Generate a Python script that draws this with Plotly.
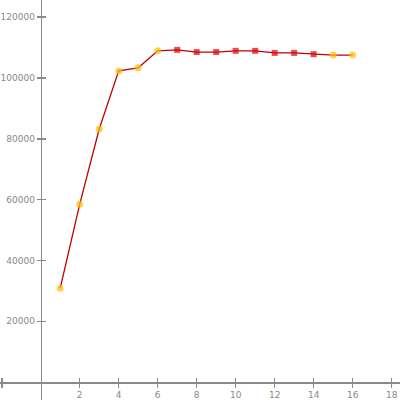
import plotly.graph_objects as go

x_vals = [1, 2, 3, 4, 5, 6, 7, 8, 9, 10, 11, 12, 13, 14, 15, 16]
y_vals = [30900, 58500, 83200, 102300, 103300, 108900, 109200, 108500, 108500,
          108900, 108900, 108200, 108200, 107800, 107500, 107500]
point_group = ["o", "o", "o", "o", "o", "o", "r", "r", "r", "r", "r", "r", "r", "r", "o", "o"]
x_ticks = [-2, 2, 4, 6, 8, 10, 12, 14, 16, 18]
x_tick_text = ["", "2", "4", "6", "8", "10", "12", "14", "16", "18"]
y_ticks = [20000, 40000, 60000, 80000, 100000, 120000]
y_tick_text = ["20000", "40000", "60000", "80000", "100000", "120000"]

colors = ["#FFBE0A" if g == "o" else "#E00000" for g in point_group]
symbols = ["circle" if g == "o" else "square" for g in point_group]
sizes = [7 if g == "o" else 6 for g in point_group]

xr = [-2.09, 18.43]
yr = [-5850, 125600]
xpos = (0 - xr[0]) / (xr[1] - xr[0])
ypos = (0 - yr[0]) / (yr[1] - yr[0])

fig = go.Figure()
fig.add_trace(go.Scatter(
    x=x_vals, y=y_vals, mode="lines+markers",
    line=dict(color="#C00000", width=1.3),
    marker=dict(color=colors, symbol=symbols, size=sizes, line=dict(width=0)),
    showlegend=False, hoverinfo="skip"))

axis_font = dict(family="DejaVu Sans", size=9, color="#888888")
common = dict(showgrid=False, zeroline=False, showline=True, linecolor="#8a8a8a",
              linewidth=1.5, ticklen=4, tickwidth=1.5, tickcolor="#8a8a8a",
              tickfont=axis_font, automargin=False, fixedrange=True)

fig.update_layout(
    width=400, height=400, margin=dict(l=0, r=0, t=0, b=0),
    paper_bgcolor="white", plot_bgcolor="white",
    xaxis=dict(range=xr, domain=[0, 1], anchor="free", position=ypos,
               tickvals=x_ticks, ticktext=x_tick_text, ticks="outside", **common),
    yaxis=dict(range=yr, domain=[0, 1], anchor="free", position=xpos,
               tickvals=y_ticks, ticktext=y_tick_text, ticks="outside", **common),
    xaxis2=dict(range=xr, overlaying="x", anchor="free", position=ypos, side="bottom",
                tickvals=x_ticks, ticks="inside", showticklabels=False, **common),
    yaxis2=dict(range=yr, overlaying="y", anchor="free", position=xpos, side="left",
                tickvals=y_ticks, ticks="inside", showticklabels=False, **common),
)
fig.add_trace(go.Scatter(x=[None], y=[None], xaxis="x2", yaxis="y2",
                         showlegend=False, hoverinfo="skip"))

fig.write_html("out.html", config={"displayModeBar": False, "staticPlot": True},
               post_script="document.body.style.margin='0px';document.body.style.overflow='hidden';")
